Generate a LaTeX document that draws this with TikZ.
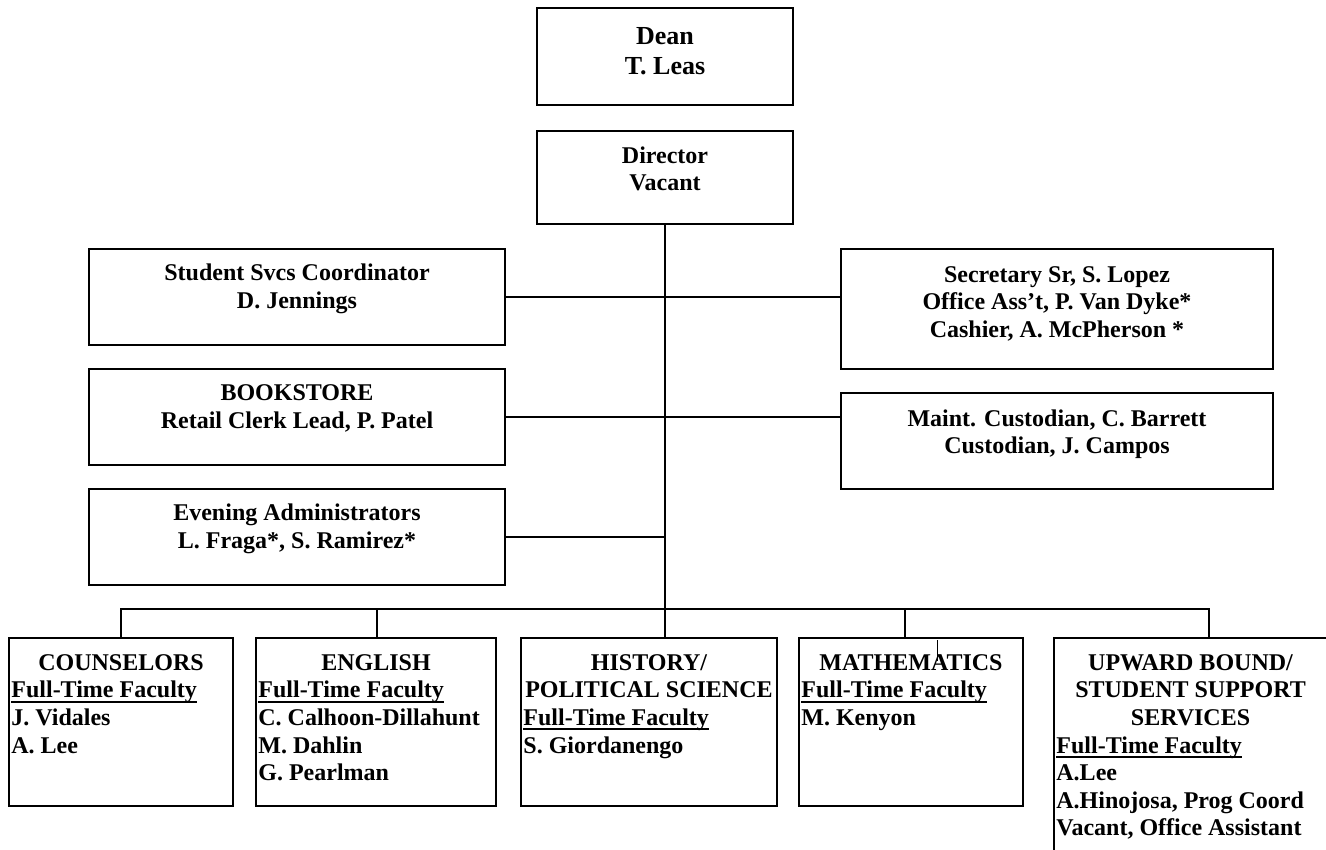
\documentclass[tikz,border=0pt]{standalone}
\usepackage{fontspec}
\setmainfont{Liberation Serif}
% heavy underline used for the faculty headings
\newcommand\ulbold[1]{\leavevmode\setbox0=\hbox{#1}\rlap{\rule[-2.4pt]{\wd0}{1.1pt}}\box0}
\tikzset{
  box/.style={draw, line width=1pt, inner sep=0pt, rectangle},
  link/.style={line width=1pt},
  txt/.style={font=\fontsize{12}{13.8}\selectfont\bfseries, align=center,
              inner sep=0pt, anchor=north},
  lst/.style={font=\fontsize{12}{13.8}\selectfont\bfseries, align=left,
              inner sep=0pt, anchor=north west},
}
\begin{document}
\begin{tikzpicture}[x=0.5pt, y=-0.5pt]
\useasboundingbox (0,0) rectangle (1326,850);

% ---- boxes ----
\node[box, minimum width=128pt, minimum height=48.5pt] (dean)      at (665,56.5) {};
\node[box, minimum width=128pt, minimum height=46.5pt] (director)  at (665,177.5) {};
\node[box, minimum width=208pt, minimum height=48pt]   (student)   at (297,297) {};
\node[box, minimum width=208pt, minimum height=48pt]   (bookstore) at (297,417) {};
\node[box, minimum width=208pt, minimum height=48pt]   (evening)   at (297,537) {};
\node[box, minimum width=216pt, minimum height=60pt]   (secretary) at (1057,309) {};
\node[box, minimum width=216pt, minimum height=48pt]   (maint)     at (1057,441) {};
\node[box, minimum width=112pt, minimum height=84pt]   (couns)     at (121,722) {};
\node[box, minimum width=120pt, minimum height=84pt]   (english)   at (376,722) {};
\node[box, minimum width=128pt, minimum height=84pt]   (history)   at (649,722) {};
\node[box, minimum width=112pt, minimum height=84pt]   (math)      at (911,722) {};
\node[box, minimum width=136.5pt, minimum height=131pt] (upward)   at (1190.5,769) {};

% ---- box texts ----
\node[txt, font=\fontsize{13}{15}\selectfont\bfseries] (deanT) at ([yshift=-8.3pt]dean.north) {\strut Dean\\T. Leas};
\node[txt] (directorT)  at ([yshift=-6.8pt]director.north)  {\strut Director\\Vacant};
\node[txt] (studentT)   at ([yshift=-6.6pt]student.north)   {\strut Student Svcs Coordinator\\D. Jennings};
\node[txt] (bookstoreT) at ([yshift=-6.6pt]bookstore.north) {\strut BOOKSTORE\\Retail Clerk Lead, P. Patel};
\node[txt] (eveningT)   at ([yshift=-6.6pt]evening.north)   {\strut Evening Administrators\\L. Fraga*, S. Ramirez*};
\node[txt] (secretaryT) at ([yshift=-7.3pt]secretary.north) {\strut Secretary Sr, S. Lopez\\Office Ass'{}t, P. Van Dyke*\\Cashier, A. McPherson *};
\node[txt] (maintT)     at ([yshift=-7.3pt]maint.north)     {\strut Maint. Custodian, C. Barrett\\Custodian, J. Campos};

\node[txt] (counsH)   at ([yshift=-6.8pt]couns.north)   {\strut COUNSELORS};
\node[lst] (counsL)   at ([xshift=1.5pt,yshift=-20.6pt]couns.north west)
  {\strut\ulbold{Full-Time Faculty}\\J. Vidales\\A. Lee};
\node[txt] (englishH) at ([yshift=-6.8pt]english.north) {\strut ENGLISH};
\node[lst] (englishL) at ([xshift=1.5pt,yshift=-20.6pt]english.north west)
  {\strut\ulbold{Full-Time Faculty}\\C. Calhoon-Dillahunt\\M. Dahlin\\G. Pearlman};
\node[txt] (historyH) at ([yshift=-6.8pt]history.north) {\strut HISTORY/\\POLITICAL SCIENCE};
\node[lst] (historyL) at ([xshift=1.5pt,yshift=-34.4pt]history.north west)
  {\strut\ulbold{Full-Time Faculty}\\S. Giordanengo};
\node[txt] (mathH)    at ([yshift=-6.8pt]math.north)    {\strut MATHEMATICS};
\node[lst] (mathL)    at ([xshift=1.5pt,yshift=-20.6pt]math.north west)
  {\strut\ulbold{Full-Time Faculty}\\M. Kenyon};
\node[txt] (upwardH)  at ([yshift=-6.8pt]upward.north)  {\strut UPWARD BOUND/\\STUDENT SUPPORT\\SERVICES};
\node[lst] (upwardL)  at ([xshift=1.5pt,yshift=-48.2pt]upward.north west)
  {\strut\ulbold{Full-Time Faculty}\\A.Lee\\A.Hinojosa, Prog Coord\\Vacant, Office Assistant};

% ---- connectors ----
\draw[link] (director.south) -- (director.south |- history.north);
\draw[link] (student.east) -- (secretary.west |- student.east);
\draw[link] (bookstore.east) -- (maint.west |- bookstore.east);
\draw[link] (evening.east) -- (director.south |- evening.east);

\coordinate (bus)   at (665,609);
\coordinate (dropE) at (377,609);
\coordinate (dropM) at (905,609);
\coordinate (dropU) at (1209,609);
\draw[link] (couns.north) -- (couns.north |- bus) -- (dropU) -- (dropU |- upward.north);
\draw[link] (dropE) -- (dropE |- english.north);
\draw[link] (dropM) -- (dropM |- math.north);

% short stray rule inside the mathematics box
\coordinate (tick) at (937,640);
\draw[line width=0.5pt] (tick) -- ++(0,21);
\end{tikzpicture}
\end{document}
